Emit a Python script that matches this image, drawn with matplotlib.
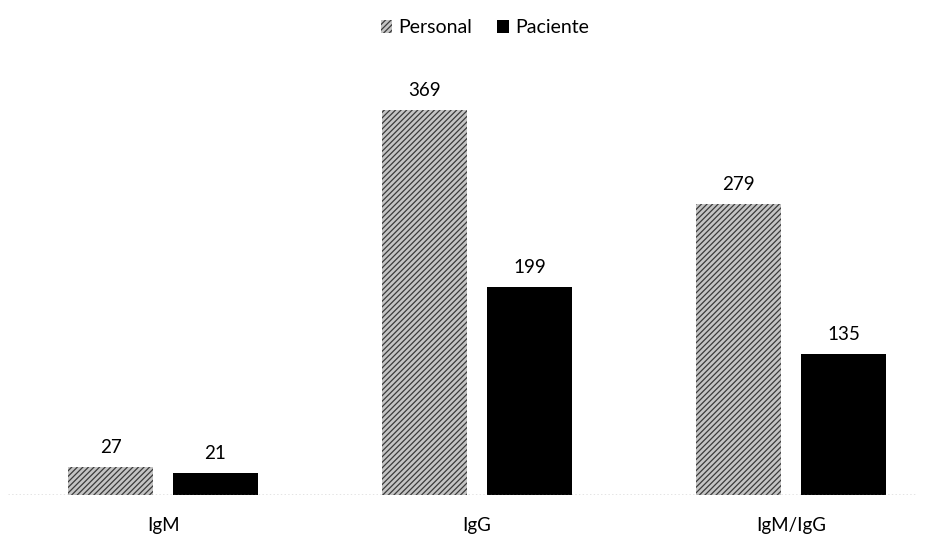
import matplotlib.pyplot as plt
import numpy as np

categories = ['IgM', 'IgG', 'IgM/IgG']
personal = [27, 369, 279]
paciente = [21, 199, 135]

plt.rcParams['font.family'] = ['Lato', 'DejaVu Sans']
plt.rcParams['hatch.linewidth'] = 0.9
plt.rcParams['hatch.color'] = '#3a3a3a'

fig = plt.figure(figsize=(9.25, 5.38), dpi=100)
ax = fig.add_axes([8 / 925, 43 / 538, 908 / 925, 435 / 538])

x = np.arange(len(categories))
width = 0.27
offset = 0.167

bars1 = ax.bar(x - offset, personal, width, color='#c4c4c4', hatch='//////',
               edgecolor='#3a3a3a', linewidth=0, label='Personal')
bars2 = ax.bar(x + offset, paciente, width, color='black', label='Paciente')

for bars in (bars1, bars2):
    for b in bars:
        h = b.get_height()
        ax.annotate(f'{h}', xy=(b.get_x() + b.get_width() / 2, h),
                    xytext=(0, 8), textcoords='offset points',
                    ha='center', va='bottom', fontsize=13.5)

ax.axhline(0, color='#777777', linestyle=':', linewidth=1.0)

ax.set_xlim(-0.494, 2.398)
ax.set_ylim(0, 417)
ax.set_xticks(x)
ax.set_xticklabels(categories, fontsize=13.5)
ax.tick_params(axis='x', length=0, pad=16)
ax.set_yticks([])
for s in ax.spines.values():
    s.set_visible(False)

fig.legend(loc='upper center', bbox_to_anchor=(0.524, 1.0), ncol=2, frameon=False,
           fontsize=14, handlelength=0.6, handleheight=0.6, columnspacing=1.3,
           handletextpad=0.3, borderaxespad=0.6)

plt.savefig('out.png', dpi=100)
